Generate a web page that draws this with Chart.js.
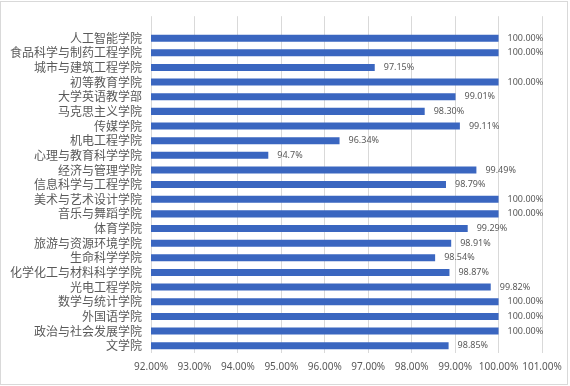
<!DOCTYPE html>
<html><head><meta charset="utf-8">
<script src="https://cdn.jsdelivr.net/npm/chart.js@4/dist/chart.umd.min.js"></script>
<style>
html,body{margin:0;padding:0;background:#fff;}
#frame{position:absolute;left:0;top:1px;width:566px;height:382px;border:1px solid #d9d9d9;}
#wrap{position:absolute;left:0;top:0;width:570px;height:386px;}
</style></head>
<body>
<div id="frame"></div>
<div id="wrap"><canvas id="c" width="570" height="386"></canvas></div>
<script>
const categories = ['人工智能学院','食品科学与制药工程学院','城市与建筑工程学院','初等教育学院','大学英语教学部','马克思主义学院','传媒学院','机电工程学院','心理与教育科学学院','经济与管理学院','信息科学与工程学院','美术与艺术设计学院','音乐与舞蹈学院','体育学院','旅游与资源环境学院','生命科学学院','化学化工与材料科学学院','光电工程学院','数学与统计学院','外国语学院','政治与社会发展学院','文学院'];
const values = [100.00,100.00,97.15,100.00,99.01,98.30,99.11,96.34,94.7,99.49,98.79,100.00,100.00,99.29,98.91,98.54,98.87,99.82,100.00,100.00,100.00,98.85];
const valueLabels = ['100.00%','100.00%','97.15%','100.00%','99.01%','98.30%','99.11%','96.34%','94.7%','99.49%','98.79%','100.00%','100.00%','99.29%','98.91%','98.54%','98.87%','99.82%','100.00%','100.00%','100.00%','98.85%'];
const xTicks = [92,93,94,95,96,97,98,99,100,101];

const labels = [''].concat(categories);
const data = [null].concat(values);
const dlabels = [''].concat(valueLabels);

const labelPlugin = {
  id:'vlabels',
  afterDatasetsDraw(chart){
    const ctx = chart.ctx;
    const meta = chart.getDatasetMeta(0);
    ctx.save();
    ctx.font = '9px "Noto Sans", "Noto Sans CJK SC", sans-serif';
    ctx.fillStyle = '#595959';
    ctx.textAlign = 'left';
    ctx.textBaseline = 'middle';
    meta.data.forEach((el,i)=>{
      if (data[i] == null) return;
      ctx.fillText(dlabels[i], el.x + 9, el.y);
    });
    ctx.restore();
  }
};

new Chart(document.getElementById('c'), {
  type:'bar',
  data:{labels:labels, datasets:[{data:data, backgroundColor:'#3a66c0', barPercentage:0.48, categoryPercentage:1.0}]},
  options:{
    indexAxis:'y', responsive:false, animation:false,
    layout:{padding:{left:0, top:16, right:28, bottom:0}},
    plugins:{legend:{display:false}, tooltip:{enabled:false}},
    scales:{
      x:{min:92, max:101,
         afterFit(s){ s.height = 33; },
         afterBuildTicks(s){ s.ticks = xTicks.map(v=>({value:v})); },
         grid:{color:'#d9d9d9', lineWidth:1, drawTicks:false},
         border:{display:false},
         ticks:{padding:8, color:'#595959', maxRotation:0, minRotation:0, autoSkip:false,
                font:{size:10, family:'"Noto Sans", sans-serif'},
                callback:(v)=>Number(v).toFixed(2)+'%'}},
      y:{afterFit(s){ s.width = 151; },
         grid:{display:false, drawTicks:false},
         border:{display:false},
         ticks:{padding:9, color:'#595959', autoSkip:false, font:{size:12, family:'"Noto Sans CJK SC", sans-serif'}}}
    }
  },
  plugins:[labelPlugin]
});
</script>
</body></html>
